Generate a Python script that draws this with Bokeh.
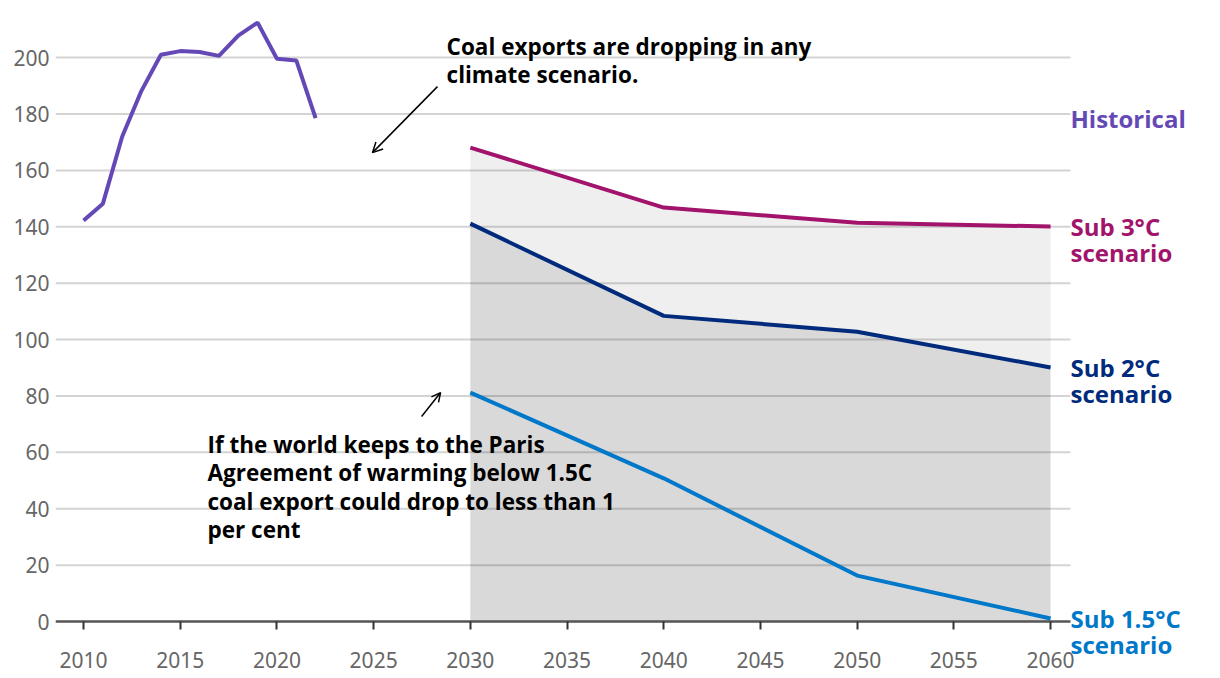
from bokeh.plotting import figure
from bokeh.models import Range1d, FixedTicker, Label, Arrow, OpenHead
from bokeh.embed import file_html
from bokeh.resources import INLINE

# ---- data ----
hist_years = [2010, 2011, 2012, 2013, 2014, 2015, 2016, 2017, 2018, 2019, 2020, 2021, 2022]
hist_values = [142.2, 148.2, 172.0, 188.3, 201.0, 202.3, 202.0, 200.6, 207.8, 212.4, 199.6, 199.0, 178.5]
scen_years = [2030, 2040, 2050, 2060]
sub3 = [168.1, 146.8, 141.4, 140.1]
sub2 = [141.1, 108.4, 102.8, 90.1]
sub15 = [81.2, 50.8, 16.3, 1.1]
x_ticks = [2010, 2015, 2020, 2025, 2030, 2035, 2040, 2045, 2050, 2055, 2060]
y_ticks = [0, 20, 40, 60, 80, 100, 120, 140, 160, 180, 200]
series_labels = ["Historical", "Sub 3°C\nscenario", "Sub 2°C\nscenario", "Sub 1.5°C\nscenario"]
note_top = "Coal exports are dropping in any\nclimate scenario."
note_bottom = "If the world keeps to the Paris\nAgreement of warming below 1.5C\ncoal export could drop to less than 1\nper cent"

C_HIST = "#6449b6"
C_3 = "#a2136c"
C_2 = "#002b7c"
C_15 = "#0078c9"

X_START, X_END = 2008.55, 2068.27
GRID_END = 2061.03
Y_START, Y_END = -20.2, 216.7

p = figure(width=1212, height=678, output_backend="svg", toolbar_location=None,
           x_range=Range1d(X_START, X_END), y_range=Range1d(Y_START, Y_END),
           min_border_left=55, min_border_right=2, min_border_top=10, min_border_bottom=0)
p.outline_line_color = None
p.background_fill_color = "white"

# axes
p.xaxis.fixed_location = 0
p.xaxis.ticker = FixedTicker(ticks=x_ticks)
p.yaxis.ticker = FixedTicker(ticks=y_ticks)
p.xaxis.minor_tick_line_color = None
p.yaxis.minor_tick_line_color = None
p.xaxis.axis_line_color = None
p.xaxis.major_tick_line_color = "#333333"
p.xaxis.major_tick_line_width = 2
p.xaxis.major_tick_out = 8
p.xaxis.major_tick_in = 0
p.xaxis.major_label_standoff = 22
p.yaxis.axis_line_color = None
p.yaxis.major_tick_line_color = None
p.yaxis.major_label_standoff = 0
for ax in (p.xaxis, p.yaxis):
    ax.major_label_text_font = "Noto Sans"
    ax.major_label_text_font_size = "21px"
    ax.major_label_text_color = "#666666"
p.xgrid.grid_line_color = None
p.ygrid.grid_line_color = None

# gridlines limited to the data area
grid_y = y_ticks[1:]
p.segment(x0=[X_START] * len(grid_y), x1=[GRID_END] * len(grid_y), y0=grid_y, y1=grid_y,
          line_color="#d4d4d4", line_width=2)

# areas
p.varea(x=scen_years, y1=[0] * len(scen_years), y2=sub3, fill_color="black", fill_alpha=0.063)
p.varea(x=scen_years, y1=[0] * len(scen_years), y2=sub2, fill_color="black", fill_alpha=0.092)

# zero baseline
p.segment(x0=[X_START], x1=[GRID_END], y0=[0], y1=[0], line_color="#555555", line_width=2.5)

# lines
p.line(hist_years, hist_values, line_color=C_HIST, line_width=4)
p.line(scen_years, sub3, line_color=C_3, line_width=4)
p.line(scen_years, sub2, line_color=C_2, line_width=4)
p.line(scen_years, sub15, line_color=C_15, line_width=4)

# end labels
ends = [hist_values[-1], sub3[-1], sub2[-1], sub15[-1]]
cols = [C_HIST, C_3, C_2, C_15]
for txt, yv, col in zip(series_labels, ends, cols):
    nlines = txt.count("\n") + 1
    p.add_layout(Label(x=GRID_END, y=yv, text=txt, text_color=col, text_font="Open Sans",
                       text_font_style="bold", text_font_size="24px", text_baseline="middle",
                       text_line_height=0.8, x_offset=0,
                       y_offset=-13 * (nlines - 1)))

# annotations
p.add_layout(Label(x=2028.77, y=209.5, text=note_top, text_font="Open Sans", text_font_style="bold",
                   text_font_size="22.5px", text_color="black", text_baseline="top",
                   text_line_height=0.92))
p.add_layout(Label(x=2016.41, y=68.4, text=note_bottom, text_font="Open Sans", text_font_style="bold",
                   text_font_size="22.5px", text_color="black", text_baseline="top",
                   text_line_height=0.92))
p.add_layout(Arrow(end=OpenHead(size=10, line_width=1.5, line_color="black"),
                   x_start=2028.3, y_start=189.7, x_end=2024.94, y_end=166.3,
                   line_width=1.5, line_color="black"))
p.add_layout(Arrow(end=OpenHead(size=9, line_width=1.5, line_color="black"),
                   x_start=2027.48, y_start=72.7, x_end=2028.46, y_end=81.2,
                   line_width=1.5, line_color="black"))

open("out.html", "w").write(file_html(p, INLINE))
